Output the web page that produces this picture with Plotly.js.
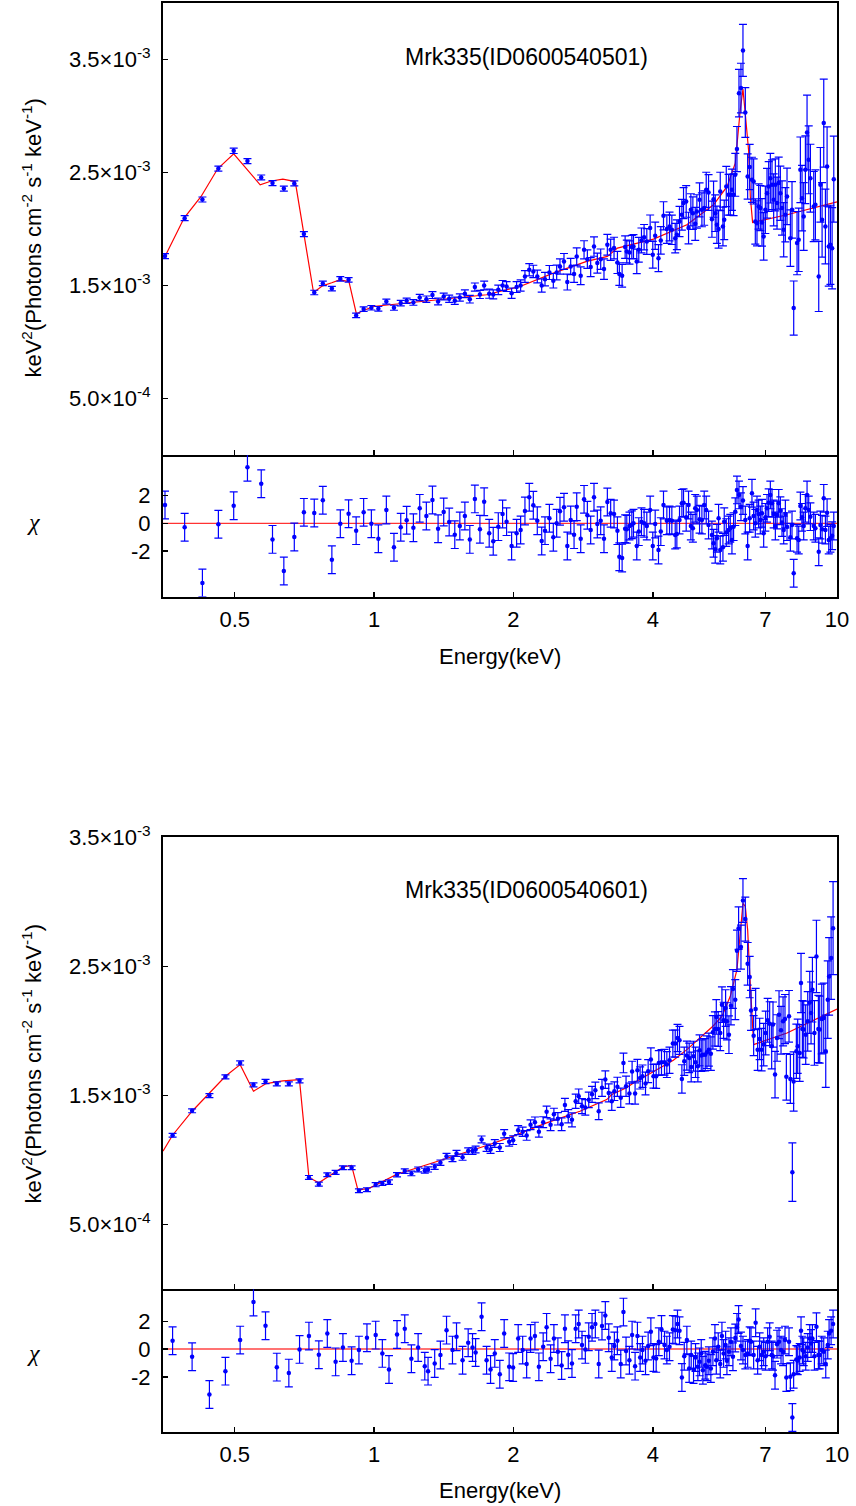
<!DOCTYPE html>
<html>
<head>
<meta charset="utf-8">
<script src="https://cdn.plot.ly/plotly-3.0.1.min.js"></script>
<style>html,body{margin:0;padding:0;background:#fff}#chart{width:856px;height:1506px}</style>
</head>
<body>
<div id="chart"></div>
<script>
// ---------- tick labels ----------
const X_TICKS = [0.5, 1, 2, 4, 7, 10];
const X_TICK_TEXT = ['0.5', '1', '2', '4', '7', '10'];
const Y_TICKS = [0.5e-3, 1.5e-3, 2.5e-3, 3.5e-3];
const Y_TICK_TEXT = ['5.0\u00d710<sup>-4</sup>', '1.5\u00d710<sup>-3</sup>', '2.5\u00d710<sup>-3</sup>', '3.5\u00d710<sup>-3</sup>'];
const CHI_TICKS = [-2, 0, 2];
const CHI_TICK_TEXT = ['-2', '0', '2'];
const LABEL_A = 'Mrk335(ID0600540501)';
const LABEL_B = 'Mrk335(ID0600540601)';

// ---------- spectrum A (ID0600540501) ----------
const E_A = [
0.3535,0.3898,0.4258,0.4610,0.4975,0.5327,0.5705,0.6034,0.6384,0.6725,
0.7054,0.7427,0.7750,0.8107,0.8455,0.8810,0.9147,0.9495,0.9867,1.0216,
1.063,1.104,1.142,1.176,1.216,
1.255,1.297,1.337,1.375,1.414,1.453,1.494,1.532,1.571,1.610,
1.651,1.693,1.729,1.773,1.809,1.855,1.895,1.933,1.982,2.032,
2.073,2.118,2.164,2.208,2.252,2.302,2.340,2.392,2.439,2.480,
2.521,2.572,2.615,2.659,2.704,2.740,2.795,2.842,2.889,2.937,
2.986,3.036,3.087,3.138,3.191,3.244,3.299,3.355,3.387,3.434,
3.486,3.515,3.562,3.604,3.634,3.694,3.731,3.781,3.831,3.883,
3.948,4.000,4.048,4.115,4.163,4.219,4.290,4.347,4.398,4.472,
4.509,4.569,4.623,4.661,4.723,4.779,4.834,4.883,4.940,4.981,
5.048,5.107,5.166,5.218,5.279,5.368,5.412,5.457,5.503,5.549,
5.595,5.670,5.707,5.765,5.832,5.881,5.930,5.979,6.029,6.080,
6.141,6.202,6.264,6.338,6.412,6.477,6.551,6.606,6.661,6.717,
6.772,6.829,6.886,6.944,7.002,7.060,7.119,7.178,7.238,7.298,
7.359,7.421,7.483,7.545,7.607,7.671,7.735,7.799,7.930,7.995,
8.063,8.198,8.266,8.335,8.404,8.474,8.545,8.616,8.688,8.761,
8.907,8.981,9.132,9.208,9.285,9.362,9.440,9.519,9.598,9.679,
9.760,9.841];
// flux in units of 1e-3 keV^2 photons cm^-2 s^-1 keV^-1
const FLUX_A = [
1.760,2.096,2.261,2.535,2.692,2.601,2.456,2.406,2.358,2.403,
1.955,1.438,1.518,1.473,1.559,1.550,1.235,1.291,1.303,1.294,
1.358,1.303,1.344,1.365,1.350,
1.394,1.379,1.415,1.359,1.403,1.382,1.365,1.394,1.427,1.379,
1.486,1.421,1.500,1.427,1.421,1.462,1.500,1.491,1.432,1.486,
1.500,1.580,1.639,1.624,1.580,1.500,1.556,1.615,1.542,1.615,
1.668,1.713,1.530,1.668,1.601,1.757,1.586,1.816,1.733,1.663,
1.845,1.698,1.733,1.645,1.860,1.816,1.831,1.704,1.601,1.586,
1.840,1.801,1.792,1.840,1.845,1.713,1.816,1.899,1.928,1.890,
2.008,1.772,1.940,1.742,1.899,2.117,1.999,2.022,1.993,1.919,
1.949,2.067,2.126,2.229,2.244,2.008,2.170,2.140,2.046,2.155,
2.258,2.170,2.185,2.347,2.323,2.087,2.264,2.140,2.037,1.999,
2.332,2.022,2.081,2.376,2.303,2.303,2.347,2.303,2.480,2.707,
3.202,3.247,3.580,3.031,2.465,2.548,2.435,2.421,2.067,2.050,
2.199,2.185,2.058,1.934,2.170,2.317,2.376,2.450,2.391,2.258,
2.391,2.229,2.406,2.317,2.185,1.993,2.126,2.288,1.919,2.170,
1.300,1.875,1.904,2.524,2.273,2.111,2.524,2.854,2.612,2.450,
2.199,2.214,1.580,2.391,2.081,2.937,2.022,2.553,1.845,1.860,
1.830,2.441];
const ERR_A = [
0.022,0.022,0.022,0.022,0.024,0.022,0.022,0.022,0.022,0.022,
0.022,0.020,0.020,0.020,0.020,0.020,0.020,0.020,0.020,0.020,
0.022,0.022,0.024,0.024,0.025,
0.028,0.028,0.030,0.030,0.030,0.032,0.032,0.032,0.034,0.034,
0.036,0.036,0.038,0.040,0.040,0.042,0.044,0.044,0.046,0.048,
0.050,0.052,0.054,0.055,0.056,0.058,0.060,0.062,0.064,0.066,
0.068,0.070,0.070,0.072,0.074,0.076,0.078,0.080,0.082,0.084,
0.086,0.088,0.090,0.090,0.092,0.094,0.096,0.098,0.100,0.100,
0.100,0.100,0.102,0.104,0.106,0.108,0.110,0.110,0.112,0.114,
0.116,0.118,0.120,0.120,0.122,0.124,0.126,0.128,0.130,0.130,
0.132,0.134,0.136,0.138,0.140,0.140,0.142,0.144,0.146,0.148,
0.150,0.150,0.152,0.155,0.158,0.160,0.160,0.162,0.165,0.168,
0.170,0.172,0.175,0.178,0.180,0.180,0.182,0.185,0.190,0.200,
0.210,0.220,0.230,0.220,0.200,0.200,0.200,0.200,0.200,0.200,
0.200,0.200,0.210,0.210,0.210,0.220,0.220,0.220,0.220,0.230,
0.230,0.230,0.230,0.240,0.240,0.240,0.240,0.250,0.250,0.250,
0.240,0.280,0.280,0.290,0.290,0.300,0.300,0.330,0.300,0.300,
0.310,0.310,0.310,0.330,0.330,0.390,0.330,0.350,0.350,0.350,
0.360,0.380];
const CHI_A = [
1.32,-0.29,-4.31,-0.07,1.27,4.04,2.86,-1.16,-3.44,-0.99,
0.79,0.74,1.66,-2.63,-0.03,0.69,-0.53,0.79,-0.03,-1.11,
0.96,-1.73,-0.29,0.22,-0.32,
1.08,0.53,1.68,-0.39,0.82,0.10,-0.82,-0.19,0.53,-1.16,
1.76,-0.43,1.56,-0.72,-1.30,-0.24,0.67,0.12,-1.64,-0.72,
-0.48,0.89,1.88,1.30,0.19,-1.28,-0.53,0.36,-1.01,0.00,
0.87,1.16,-1.64,0.24,-0.82,1.20,-1.11,1.73,0.58,-0.48,
1.88,-0.05,0.19,-1.11,1.54,0.72,0.67,-0.53,-2.41,-2.50,
-0.39,-0.43,-0.19,-0.10,0.00,-1.64,-0.60,0.12,0.00,-0.19,
0.96,-1.64,-0.05,-1.93,-0.60,1.32,0.19,0.24,0.19,-0.84,
-0.77,0.24,1.44,1.49,0.43,1.32,-0.19,-0.36,1.08,0.96,
0.29,0.24,1.32,0.96,-0.12,-0.84,-1.44,-1.88,-1.08,0.36,
-1.93,-1.73,0.12,-0.67,-0.48,-0.36,-1.20,-0.24,0.84,2.41,
2.05,1.20,1.64,0.24,-1.64,0.36,2.17,0.53,0.00,0.96,
0.67,0.24,0.72,-0.72,0.43,1.08,1.49,2.05,1.44,0.67,
-0.19,0.60,1.44,0.91,0.05,-0.48,0.67,-0.24,-1.01,-0.12,
-3.61,-1.08,-1.20,1.25,0.43,-0.19,1.08,2.05,0.96,0.48,
-0.19,-0.36,-2.05,-0.12,-0.43,1.80,-0.48,0.77,-1.20,-1.08,
-0.90,-0.19];
const MODEL_E_A = [0.35,0.3535,0.389,0.423,0.4594,0.4975,0.5675,0.600,0.6352,0.6757,0.740,0.774,0.810,0.8425,0.8825,0.9156,0.9945,1.387,1.750,2.066,2.439,2.879,3.191,3.355,4.014,4.739,5.412,5.790,6.029,6.181,6.264,6.338,6.443,6.497,6.572,7.799,10.0];
const MODEL_A = [1.750,1.757,2.099,2.288,2.533,2.665,2.391,2.425,2.442,2.420,1.438,1.497,1.524,1.550,1.535,1.250,1.314,1.373,1.418,1.491,1.610,1.713,1.757,1.831,1.910,2.037,2.214,2.377,2.583,3.055,3.238,3.016,2.692,2.288,2.058,2.126,2.240];

// ---------- spectrum B (ID0600540601) ----------
const E_B = [
0.3671,0.4045,0.4409,0.4774,0.5137,0.5489,0.5828,0.6165,0.6545,0.6903,
0.7233,0.7598,0.7925,0.8259,0.8565,0.8943,0.9275,0.9652,1.008,1.042,
1.077,1.121,1.165,1.204,1.245,1.287,1.308,1.352,1.391,1.434,
1.477,1.507,1.553,1.597,1.632,1.657,1.707,1.750,
1.785,1.823,1.869,1.910,1.958,1.997,2.048,2.094,2.136,2.178,
2.226,2.270,2.319,2.359,2.406,2.446,2.495,2.542,2.584,2.627,
2.676,2.726,2.767,2.813,2.860,2.909,2.957,3.006,3.057,3.107,
3.159,3.213,3.262,3.304,3.354,3.411,3.457,3.502,3.561,3.609,3.663,
3.706,3.756,3.800,3.858,3.909,3.962,4.014,4.068,4.122,4.177,
4.240,4.290,4.347,4.420,4.472,4.523,4.569,4.623,4.678,4.739,
4.794,4.842,4.899,4.948,5.006,5.048,5.090,5.132,5.192,5.236,
5.288,5.340,5.394,5.449,5.486,5.539,5.595,5.642,5.689,5.746,
5.784,5.842,5.901,5.959,6.029,6.080,6.130,6.202,6.264,6.338,
6.412,6.477,6.520,6.606,6.672,6.739,6.806,6.874,6.944,7.013,
7.083,7.154,7.226,7.274,7.347,7.421,7.495,7.570,7.647,7.721,
7.773,7.877,7.930,8.009,8.060,8.170,8.225,8.307,8.362,8.418,
8.474,8.559,8.645,8.732,8.789,8.849,8.938,9.028,9.115,9.176,
9.270,9.362,9.456,9.551,9.614,9.711,9.807];
const FLUX_B = [
1.193,1.382,1.500,1.645,1.753,1.583,1.609,1.591,1.591,1.614,
0.866,0.814,0.887,0.905,0.941,0.941,0.763,0.771,0.810,0.820,
0.830,0.887,0.915,0.897,0.928,0.918,0.928,0.949,0.980,1.031,
1.011,1.052,1.023,1.070,1.070,1.083,1.160,1.096,
1.083,1.129,1.098,1.204,1.142,1.155,1.232,1.220,1.191,1.274,
1.294,1.220,1.294,1.374,1.274,1.356,1.320,1.278,1.428,1.340,
1.312,1.456,1.495,1.418,1.408,1.467,1.510,1.541,1.379,1.560,
1.624,1.521,1.456,1.534,1.568,1.483,1.753,1.572,1.516,1.686,1.516,
1.696,1.637,1.650,1.593,1.689,1.779,1.650,1.650,1.753,1.758,
1.758,1.740,1.774,1.903,1.903,1.946,1.928,1.629,1.766,1.810,
1.792,1.722,1.805,1.758,1.727,1.851,1.810,1.817,1.817,1.836,
1.856,1.825,1.990,2.016,2.109,2.016,1.985,2.204,2.083,2.178,
2.075,1.972,2.196,2.325,2.243,2.622,2.797,2.650,3.011,2.867,
2.521,2.418,2.160,1.964,2.171,1.856,1.939,1.856,1.895,1.985,
2.083,2.057,1.882,2.050,1.663,1.946,2.127,2.006,2.075,2.093,
1.645,2.114,1.629,0.907,1.609,1.843,1.882,1.830,2.372,2.016,
2.011,1.972,2.075,2.222,2.140,2.320,1.985,2.578,2.016,2.011,
2.093,2.101,1.843,2.243,2.423,2.565,2.797];
const ERR_B = [
0.015,0.015,0.015,0.015,0.016,0.016,0.016,0.016,0.016,0.016,
0.015,0.015,0.015,0.015,0.015,0.015,0.015,0.015,0.016,0.016,
0.017,0.017,0.018,0.018,0.019,0.019,0.020,0.020,0.021,0.022,
0.022,0.023,0.024,0.025,0.025,0.026,0.027,0.028,
0.030,0.030,0.031,0.032,0.033,0.034,0.035,0.036,0.037,0.038,
0.040,0.041,0.042,0.044,0.045,0.046,0.048,0.050,0.050,0.052,
0.054,0.055,0.056,0.058,0.060,0.060,0.062,0.064,0.065,0.066,
0.068,0.070,0.070,0.072,0.074,0.075,0.076,0.078,0.080,0.080,0.082,
0.085,0.086,0.087,0.088,0.089,0.090,0.092,0.094,0.096,0.098,
0.100,0.100,0.102,0.104,0.105,0.106,0.108,0.110,0.110,0.112,
0.114,0.115,0.116,0.118,0.120,0.120,0.122,0.124,0.125,0.126,
0.128,0.130,0.130,0.132,0.134,0.135,0.136,0.138,0.140,0.142,
0.144,0.146,0.148,0.150,0.155,0.160,0.165,0.170,0.170,0.170,
0.165,0.160,0.155,0.155,0.160,0.160,0.160,0.165,0.165,0.170,
0.170,0.170,0.175,0.175,0.180,0.180,0.185,0.185,0.190,0.190,
0.180,0.200,0.190,0.227,0.230,0.210,0.210,0.220,0.230,0.220,
0.220,0.230,0.230,0.240,0.240,0.250,0.250,0.280,0.260,0.260,
0.270,0.270,0.280,0.300,0.300,0.320,0.360];
const CHI_B = [
0.60,-0.55,-3.28,-1.59,0.65,3.40,1.69,-1.30,-1.73,-0.02,
0.94,-0.41,1.13,-0.92,0.12,-0.84,-0.07,0.82,1.01,-0.31,
-1.47,1.06,1.47,-0.70,0.12,-1.23,-1.59,-1.04,-0.43,1.37,
-0.07,0.89,-0.80,0.46,0.12,-0.24,2.34,-0.80,
-1.47,-0.31,-1.81,1.13,-1.28,-1.33,0.77,-0.07,-1.08,0.77,
0.94,-1.28,0.17,1.57,-0.70,0.77,-0.19,-1.18,1.47,-0.41,
-1.04,1.47,1.81,0.29,-0.02,0.89,1.57,1.81,-1.08,1.66,
2.43,0.82,-0.60,0.22,0.60,-1.08,2.67,-0.14,-0.80,1.01,-1.23,
0.94,-0.60,-0.07,-0.84,0.22,1.25,-0.60,-0.67,0.53,1.42,
0.29,-0.07,0.17,1.42,1.37,1.81,1.33,-2.05,-0.51,0.65,
-1.40,-0.43,-1.47,-0.60,-1.28,-0.92,-0.31,-1.52,-1.16,-1.28,
-0.84,-1.40,-0.19,0.77,-0.80,0.17,-1.08,0.94,-0.31,0.29,
-0.84,-0.19,0.53,-0.55,0.80,1.57,2.14,0.22,-0.07,-0.43,
-0.31,0.60,0.53,-0.43,1.90,-0.80,0.17,-0.43,-0.19,-0.51,
0.53,0.89,-0.43,-0.51,-1.88,0.36,0.53,-0.07,-0.19,0.65,
-2.05,0.53,-2.00,-4.94,-1.81,-0.75,-0.84,-0.60,1.33,-0.07,
-0.19,-0.51,0.12,0.77,0.40,0.77,-0.51,1.61,-0.43,-0.43,
-0.07,-0.19,-1.08,0.29,1.13,1.33,1.81];
const MODEL_E_B = [0.35,0.367,0.4045,0.441,0.4774,0.5137,0.5489,0.5848,0.635,0.690,0.7233,0.7598,0.8565,0.894,0.923,0.978,1.117,1.410,1.778,1.997,2.359,2.784,3.181,3.262,3.510,3.634,4.014,4.431,4.739,5.132,5.394,5.642,5.881,6.080,6.181,6.264,6.338,6.412,6.477,6.551,6.606,7.799,10.0];
const MODEL_B = [1.070,1.193,1.379,1.516,1.650,1.740,1.534,1.593,1.614,1.624,0.866,0.825,0.947,0.959,0.768,0.783,0.889,1.005,1.121,1.186,1.289,1.379,1.469,1.508,1.560,1.598,1.689,1.774,1.856,1.972,2.037,2.114,2.269,2.475,2.758,2.990,2.965,2.784,2.449,2.114,1.895,1.985,2.170];

// ---------- build ----------
const S = 1e-3;
const BLUE = 'rgb(0,0,255)';
const RED = 'rgb(255,0,0)';
function dataTrace(x, y, err, xa, ya) {
  return {x: x, y: y, type: 'scatter', mode: 'markers', xaxis: xa, yaxis: ya,
    marker: {color: BLUE, size: 4.5},
    error_y: {type: 'data', array: err, color: BLUE, thickness: 1.2, width: 4},
    hoverinfo: 'skip', showlegend: false, cliponaxis: true};
}
function modelTrace(x, y, xa, ya) {
  return {x: x, y: y, type: 'scatter', mode: 'lines', xaxis: xa, yaxis: ya,
    line: {color: RED, width: 1.2}, hoverinfo: 'skip', showlegend: false};
}
function chiTrace(x, y, xa, ya) {
  return {x: x, y: y, type: 'scatter', mode: 'markers', xaxis: xa, yaxis: ya,
    marker: {color: BLUE, size: 4.5},
    error_y: {type: 'constant', value: 1, color: BLUE, thickness: 1.2, width: 4},
    hoverinfo: 'skip', showlegend: false};
}
const sc = a => a.map(v => v * S);

const traces = [
  modelTrace(MODEL_E_A, sc(MODEL_A), 'x', 'y'),
  dataTrace(E_A, sc(FLUX_A), sc(ERR_A), 'x', 'y'),
  chiTrace(E_A, CHI_A, 'x2', 'y2'),
  modelTrace(MODEL_E_B, sc(MODEL_B), 'x3', 'y3'),
  dataTrace(E_B, sc(FLUX_B), sc(ERR_B), 'x3', 'y3'),
  chiTrace(E_B, CHI_B, 'x4', 'y4')
];

const FAMILY = '"Liberation Sans", Arial, sans-serif';
const FONT = {family: FAMILY, size: 22, color: '#000'};
function xAxis(anchor, labels) {
  return {type: 'log', range: [Math.log10(0.35), 1], anchor: anchor,
    tickvals: X_TICKS, ticktext: X_TICK_TEXT, showticklabels: labels,
    ticks: 'inside', ticklen: 5, tickwidth: 1.5, tickcolor: '#000',
    showline: true, mirror: !labels, linecolor: '#000', linewidth: 2,
    showgrid: false, zeroline: false, ticklabelstandoff: 2, tickfont: FONT};
}
function yAxis(anchor, domain, range, vals, text) {
  return {anchor: anchor, domain: domain, range: range, tickvals: vals, ticktext: text,
    ticks: 'inside', ticklen: 5, tickwidth: 1.5, tickcolor: '#000',
    showline: true, mirror: true, linecolor: '#000', linewidth: 2,
    showgrid: false, zeroline: false, ticklabelstandoff: 6, tickfont: FONT};
}

const layout = {
  width: 856, height: 1506,
  margin: {l: 163, r: 19, t: 3, b: 74},
  paper_bgcolor: '#fff', plot_bgcolor: '#fff',
  font: FONT,
  showlegend: false,
  xaxis: xAxis('y', false),
  xaxis2: xAxis('y2', true),
  xaxis3: xAxis('y3', false),
  xaxis4: xAxis('y4', true),
  yaxis: yAxis('x', [0.6837, 1], [0, 4e-3], Y_TICKS, Y_TICK_TEXT),
  yaxis2: yAxis('x2', [0.5845, 0.6837], [-5.3, 4.93], CHI_TICKS, CHI_TICK_TEXT),
  yaxis3: yAxis('x3', [0.0999, 0.4161], [0, 3.5e-3], Y_TICKS, Y_TICK_TEXT),
  yaxis4: yAxis('x4', [0, 0.0999], [-5.98, 4.32], CHI_TICKS, CHI_TICK_TEXT),
  shapes: [
    {type: 'line', xref: 'x2 domain', x0: 0, x1: 1, yref: 'y2', y0: 0, y1: 0, line: {color: RED, width: 1}, layer: 'below'},
    {type: 'line', xref: 'x4 domain', x0: 0, x1: 1, yref: 'y4', y0: 0, y1: 0, line: {color: 'rgba(255,0,0,0.55)', width: 2}, layer: 'below'}
  ],
  annotations: [
    {text: LABEL_A, xref: 'paper', yref: 'paper', x: 0.540, y: 0.9622, showarrow: false, xanchor: 'center', yanchor: 'middle', font: {family: FAMILY, size: 23, color: '#000'}},
    {text: LABEL_B, xref: 'paper', yref: 'paper', x: 0.540, y: 0.3793, showarrow: false, xanchor: 'center', yanchor: 'middle', font: {family: FAMILY, size: 23, color: '#000'}},
    {text: 'keV<sup>2</sup>(Photons cm<sup>-2</sup> s<sup>-1</sup> keV<sup>-1</sup>)', textangle: -90, xref: 'paper', yref: 'paper', x: -0.194, y: 0.836, showarrow: false, xanchor: 'center', yanchor: 'middle', font: FONT},
    {text: 'keV<sup>2</sup>(Photons cm<sup>-2</sup> s<sup>-1</sup> keV<sup>-1</sup>)', textangle: -90, xref: 'paper', yref: 'paper', x: -0.194, y: 0.258, showarrow: false, xanchor: 'center', yanchor: 'middle', font: FONT},
    {text: '<i>\u03c7</i>', xref: 'paper', yref: 'paper', x: -0.192, y: 0.637, showarrow: false, xanchor: 'center', yanchor: 'middle', font: {family: '"Liberation Serif", "DejaVu Serif", serif', size: 24, color: '#000'}},
    {text: '<i>\u03c7</i>', xref: 'paper', yref: 'paper', x: -0.192, y: 0.055, showarrow: false, xanchor: 'center', yanchor: 'middle', font: {family: '"Liberation Serif", "DejaVu Serif", serif', size: 24, color: '#000'}},
    {text: 'Energy(keV)', xref: 'paper', yref: 'paper', x: 0.5, y: 0.543, showarrow: false, xanchor: 'center', yanchor: 'middle', font: FONT},
    {text: 'Energy(keV)', xref: 'paper', yref: 'paper', x: 0.5, y: -0.0406, showarrow: false, xanchor: 'center', yanchor: 'middle', font: FONT}
  ]
};

Plotly.newPlot('chart', traces, layout, {staticPlot: true, displayModeBar: false});
</script>
</body>
</html>
